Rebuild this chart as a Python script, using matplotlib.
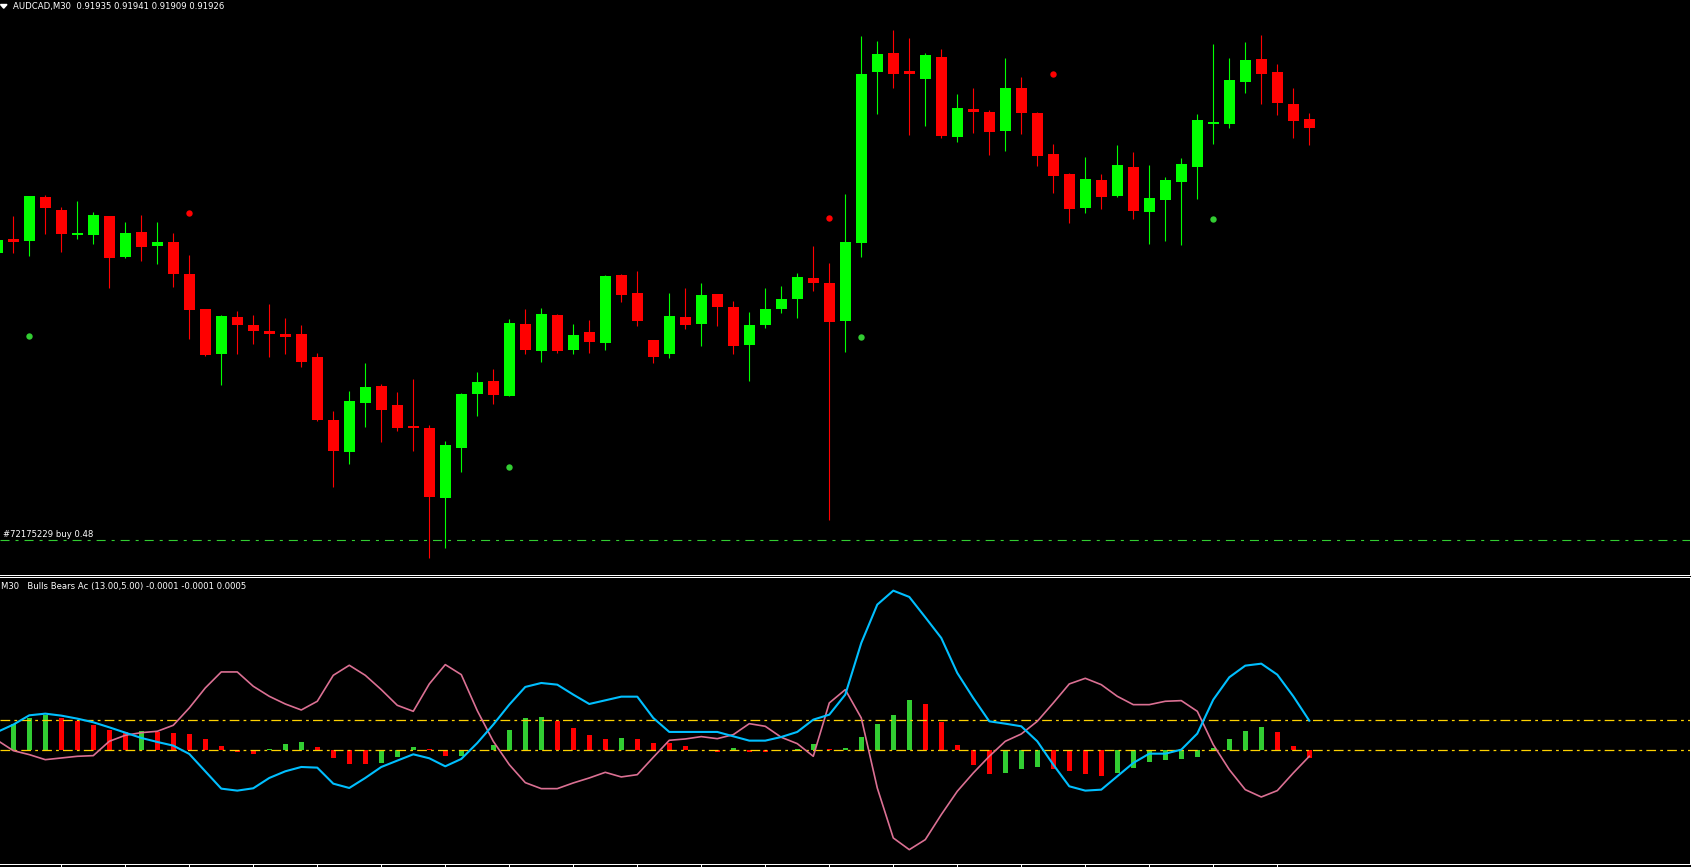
import numpy as np
import matplotlib
matplotlib.use('Agg')
import matplotlib.pyplot as plt
from matplotlib.patches import Polygon

################################################################################
# AUDCAD M30 candles (oldest -> newest)
opens = [0.91801, 0.91815, 0.91813, 0.91857, 0.91844, 0.91819, 0.91819, 0.91838, 0.91797, 0.91822,
         0.91808, 0.91812, 0.91780, 0.91745, 0.91700, 0.91737, 0.91729, 0.91723, 0.91720, 0.91720,
         0.91697, 0.91634, 0.91602, 0.91651, 0.91668, 0.91649, 0.91628, 0.91626, 0.91556, 0.91606,
         0.91660, 0.91673, 0.91658, 0.91730, 0.91703, 0.91739, 0.91704, 0.91722, 0.91711, 0.91779,
         0.91761, 0.91714, 0.91700, 0.91737, 0.91730, 0.91760, 0.91747, 0.91709, 0.91729, 0.91745,
         0.91755, 0.91776, 0.91771, 0.91733, 0.91811, 0.91982, 0.92001, 0.91983, 0.91975, 0.91997,
         0.91917, 0.91945, 0.91942, 0.91923, 0.91966, 0.91941, 0.91900, 0.91880, 0.91846, 0.91874,
         0.91858, 0.91887, 0.91842, 0.91854, 0.91872, 0.91887, 0.91930, 0.91930, 0.91972, 0.91995,
         0.91982, 0.91950, 0.91935]
highs = [0.91816, 0.91838, 0.91858, 0.91859, 0.91847, 0.91853, 0.91842, 0.91838, 0.91832, 0.91839,
         0.91832, 0.91821, 0.91799, 0.91745, 0.91739, 0.91743, 0.91739, 0.91750, 0.91736, 0.91729,
         0.91701, 0.91643, 0.91663, 0.91691, 0.91670, 0.91662, 0.91675, 0.91629, 0.91613, 0.91661,
         0.91682, 0.91685, 0.91735, 0.91745, 0.91746, 0.91740, 0.91730, 0.91734, 0.91779, 0.91780,
         0.91783, 0.91714, 0.91761, 0.91766, 0.91771, 0.91760, 0.91753, 0.91742, 0.91766, 0.91768,
         0.91781, 0.91808, 0.91791, 0.91860, 0.92018, 0.92013, 0.92024, 0.92016, 0.92001, 0.92005,
         0.91960, 0.91966, 0.91944, 0.91996, 0.91977, 0.91942, 0.91910, 0.91881, 0.91897, 0.91880,
         0.91909, 0.91902, 0.91889, 0.91877, 0.91896, 0.91940, 0.92010, 0.91996, 0.92012, 0.92019,
         0.91990, 0.91966, 0.91941]
lows = [0.91799, 0.91801, 0.91798, 0.91820, 0.91802, 0.91815, 0.91810, 0.91766, 0.91796, 0.91793,
        0.91790, 0.91767, 0.91715, 0.91698, 0.91669, 0.91700, 0.91710, 0.91697, 0.91700, 0.91687,
        0.91633, 0.91567, 0.91590, 0.91627, 0.91612, 0.91623, 0.91603, 0.91496, 0.91506, 0.91582,
        0.91638, 0.91650, 0.91658, 0.91700, 0.91692, 0.91701, 0.91700, 0.91701, 0.91704, 0.91752,
        0.91728, 0.91691, 0.91696, 0.91725, 0.91708, 0.91728, 0.91700, 0.91673, 0.91726, 0.91741,
        0.91736, 0.91763, 0.91534, 0.91702, 0.91797, 0.91940, 0.91966, 0.91919, 0.91928, 0.91916,
        0.91912, 0.91921, 0.91899, 0.91903, 0.91920, 0.91888, 0.91861, 0.91831, 0.91841, 0.91845,
        0.91857, 0.91835, 0.91810, 0.91813, 0.91809, 0.91855, 0.91910, 0.91926, 0.91961, 0.91950,
        0.91939, 0.91916, 0.91909]
closes = [0.91814, 0.91812, 0.91858, 0.91846, 0.91820, 0.91821, 0.91839, 0.91796, 0.91821, 0.91807,
          0.91812, 0.91780, 0.91744, 0.91699, 0.91738, 0.91729, 0.91723, 0.91720, 0.91717, 0.91692,
          0.91634, 0.91603, 0.91653, 0.91667, 0.91644, 0.91626, 0.91626, 0.91557, 0.91609, 0.91660,
          0.91672, 0.91659, 0.91731, 0.91704, 0.91740, 0.91703, 0.91719, 0.91712, 0.91778, 0.91759,
          0.91733, 0.91697, 0.91738, 0.91729, 0.91759, 0.91747, 0.91708, 0.91729, 0.91745, 0.91755,
          0.91777, 0.91771, 0.91732, 0.91812, 0.91980, 0.92000, 0.91980, 0.91980, 0.91999, 0.91918,
          0.91946, 0.91942, 0.91922, 0.91966, 0.91941, 0.91898, 0.91878, 0.91845, 0.91875, 0.91857,
          0.91889, 0.91843, 0.91856, 0.91874, 0.91890, 0.91934, 0.91932, 0.91974, 0.91994, 0.91980,
          0.91951, 0.91933, 0.91926]

# fractal-like dots
red_dot_idx = [12, 52, 66]
red_dot_price = [0.91841, 0.91836, 0.91980]
green_dot_idx = [2, 32, 54, 76]
green_dot_price = [0.91718, 0.91587, 0.91717, 0.91835]

order_price = 0.91514
order_label = '#72175229 buy 0.48'

# Bulls Bears Ac indicator, units of 0.0001
hist = [3.8, 4.4, 5.4, 5.9, 5.4, 4.9, 4.3, 3.4, 3.1, 3.2,
        3.1, 2.9, 2.7, 1.9, 0.7, -0.2, -0.6, 0.2, 1.1, 1.4,
        0.6, -1.3, -2.2, -2.2, -2.1, -1.1, 0.6, 0.2, -0.95, -0.9,
        0.05, 0.9, 3.4, 5.4, 5.6, 4.9, 3.7, 2.6, 1.9, 2.1,
        1.9, 1.3, 1.2, 0.7, 0.0, -0.2, 0.4, -0.2, -0.2, 0.1,
        0.15, 1.1, 0.2, 0.4, 2.2, 4.4, 5.9, 8.4, 7.7, 4.7,
        0.9, -2.4, -3.9, -3.8, -3.1, -2.8, -3.1, -3.4, -3.9, -4.3,
        -3.8, -2.9, -1.9, -1.6, -1.4, -1.1, 0.4, 1.9, 3.2, 3.9,
        3.1, 0.7, -1.3]
bulls = [3.06, 4.28, 5.83, 6.11, 5.78, 5.28, 4.67, 3.83, 2.94, 2.06,
         1.39, 0.78, -0.61, -3.50, -6.39, -6.72, -6.33, -4.61, -3.50, -2.78,
         -2.89, -5.56, -6.28, -4.61, -2.78, -1.72, -0.67, -1.33, -2.67, -1.44,
         1.22, 4.28, 7.61, 10.56, 11.22, 10.94, 9.28, 7.72, 8.33, 8.94,
         8.94, 5.39, 3.06, 3.06, 3.06, 3.06, 2.33, 1.61, 1.61, 2.22,
         3.06, 5.11, 5.94, 9.28, 17.89, 24.28, 26.61, 25.56, 22.17, 18.72,
         12.89, 8.72, 4.83, 4.44, 4.00, 1.50, -2.39, -6.00, -6.72, -6.56,
         -4.33, -2.11, -0.56, -0.56, 0.11, 2.78, 8.44, 12.17, 14.11, 14.44,
         12.61, 9.00, 4.94]
bears = [1.67, -0.06, -0.72, -1.56, -1.28, -1.00, -0.89, 1.50, 2.50, 2.94,
         3.17, 4.17, 7.06, 10.39, 13.06, 13.06, 10.67, 9.00, 7.72, 6.72,
         8.17, 12.50, 14.17, 12.50, 10.11, 7.50, 6.50, 11.06, 14.28, 12.61,
         6.61, 1.50, -2.39, -5.39, -6.39, -6.39, -5.44, -4.61, -3.67, -4.44,
         -4.06, -1.17, 1.67, 1.89, 2.28, 1.94, 2.61, 4.44, 4.00, 2.17,
         1.11, -1.00, 7.89, 10.11, 5.39, -6.28, -14.61, -16.56, -14.89, -10.72,
         -6.83, -3.78, -1.00, 1.50, 2.72, 4.83, 7.89, 11.06, 12.00, 10.94,
         9.00, 7.61, 7.61, 8.17, 8.28, 6.50, 0.94, -3.22, -6.56, -7.78,
         -6.72, -3.78, -1.00]
levels = [0.0, 5.0]
ind_label = 'M30   Bulls Bears Ac (13.00,5.00) -0.0001 -0.0001 0.0005'
################################################################################

plt.rcParams['lines.scale_dashes'] = False
W, H = 1691, 867
BAR_PX = 16.0     # pixels per candle in the terminal
PX = 0.72         # one pixel in points

fig = plt.figure(figsize=(W / 100, H / 100), dpi=100, facecolor='black')

# main window and indicator sub-window (positions in pixels from top-left)
ax = fig.add_axes([0, 1 - 574.5 / H, 1689.5 / W, 574.5 / H])
ax2 = fig.add_axes([0, 1 - 863.5 / H, 1689.5 / W, (863.5 - 576.5) / H])

for a in (ax, ax2):
    a.set_facecolor('black')
    a.spines['left'].set_visible(False)
    a.spines['top'].set_visible(False)
    for s in ('right', 'bottom'):
        a.spines[s].set_color('white')
        a.spines[s].set_linewidth(PX)
ax2.spines['top'].set_visible(True)
ax2.spines['top'].set_color('white')
ax2.spines['top'].set_linewidth(PX)

o = np.array(opens)
h = np.array(highs)
l = np.array(lows)
c = np.array(closes)
x = np.arange(len(o))
x_left = 0.17
xlim = (x_left, x_left + 1689.5 / BAR_PX)

# candles
cols = np.where(c > o, '#00FF00', '#FF0000')
ax.vlines(x, l, h, colors=cols, linewidth=0.8)
body_lo = np.minimum(o, c)
body_h = np.maximum(np.abs(c - o), 0.00001)
ax.bar(x, body_h, bottom=body_lo, width=11 / BAR_PX, color=cols, linewidth=0)

ax.plot(red_dot_idx, red_dot_price, 'o', color='#FF0000', markersize=4.6, markeredgewidth=0)
ax.plot(green_dot_idx, green_dot_price, 'o', color='#32CD32', markersize=4.6, markeredgewidth=0)

ax.axhline(order_price, color='#32CD32', linewidth=0.8, dashes=(6.5, 4.3, 2.2, 4.3))

ax.set_xlim(*xlim)
ax.set_ylim(0.92054 - 0.005745, 0.92054)
ax.set_xticks([])
ax.yaxis.tick_right()
ax.set_yticks(np.arange(0.920207, 0.9149, -0.000335))
ax.tick_params(axis='y', colors='white', direction='out', length=2, width=PX, labelright=False)

# indicator
hv = np.array(hist)
hcols = ['#32CD32'] + ['#32CD32' if hv[i] > hv[i - 1] else '#FF0000' for i in range(1, len(hv))]
ax2.bar(x, hv, width=5 / BAR_PX, color=hcols, linewidth=0)
for lv in levels:
    ax2.axhline(lv, color='#FFD200', linewidth=0.9, dashes=(7.0, 3.0, 2.0, 3.0))
ax2.plot(x, bears, color='#DB7093', linewidth=1.2)
ax2.plot(x, bulls, color='#00BFFF', linewidth=1.5)

ax2.set_xlim(*xlim)
ax2.set_ylim((750.3 - 863.5) / 6, (750.3 - 576.5) / 6)
ax2.set_xticks(np.arange(4, len(x), 4))
ax2.set_yticks([])
ax2.tick_params(axis='x', colors='white', direction='out', length=3, width=PX, labelbottom=False)

# texts
def fpos(px, py):
    return px / W, 1 - py / H

title = 'AUDCAD,M30  %.5f %.5f %.5f %.5f' % (opens[-1], highs[-1], lows[-1], closes[-1])
fig.text(*fpos(13, 6.8), title, color='white', fontsize=6.1, va='center', ha='left')
tri = [fpos(0.5, 4.5), fpos(7, 4.5), fpos(3.7, 8.2)]
fig.add_artist(Polygon(tri, closed=True, color='white', transform=fig.transFigure))

fig.text(*fpos(3, 534.6), order_label, color='white', fontsize=6.1, va='center', ha='left')
fig.text(*fpos(1.3, 586), ind_label, color='white', fontsize=6.1, va='center', ha='left')

fig.savefig('out.png', dpi=100, facecolor='black')
